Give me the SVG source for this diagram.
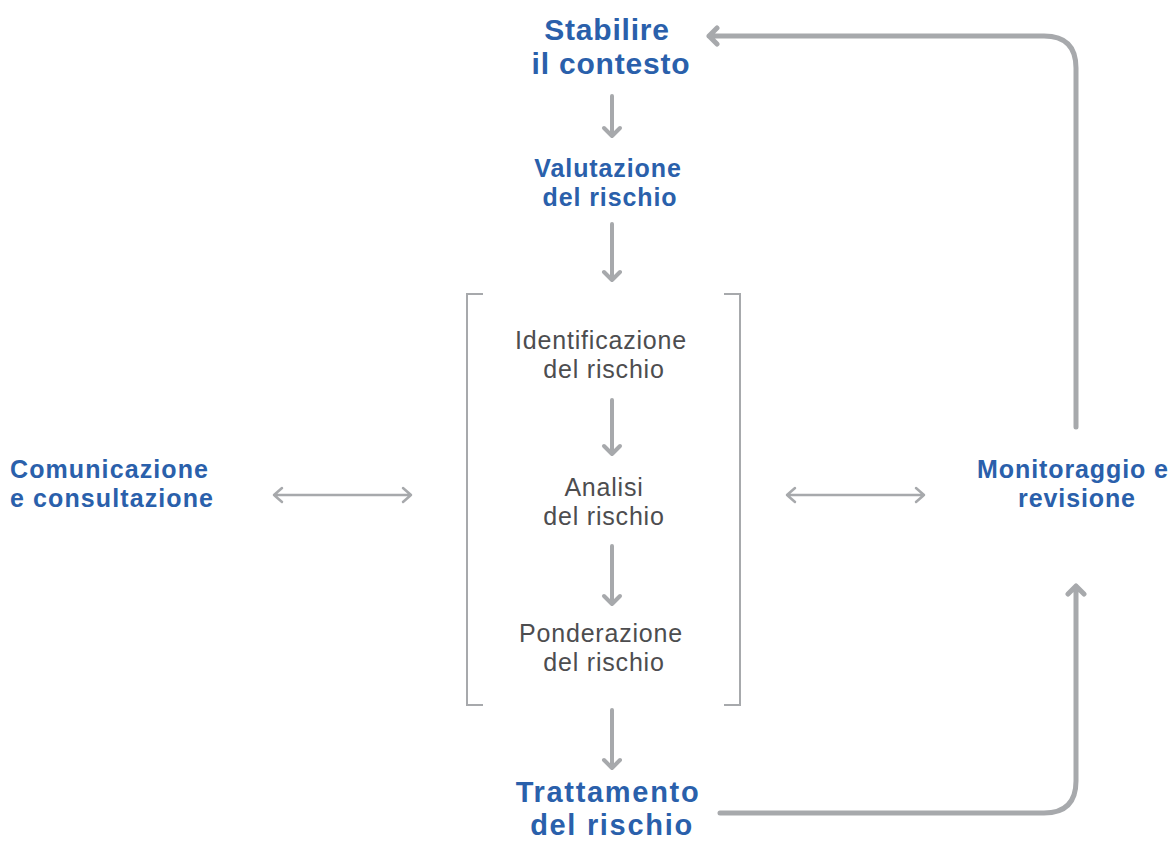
<svg xmlns="http://www.w3.org/2000/svg" width="1172" height="841" viewBox="0 0 1172 841">
  <style>
    .blue { fill: #2a60ab; font-family: "Liberation Sans", Arial, sans-serif; font-weight: bold; letter-spacing: 0.8px; }
    .gray { fill: #4d4d4f; font-family: "Liberation Sans", Arial, sans-serif; letter-spacing: 0.8px; }
    .flow { fill: none; stroke: #a7a9ac; stroke-width: 4; stroke-linecap: round; stroke-linejoin: round; }
    .loop { fill: none; stroke: #a7a9ac; stroke-width: 5; stroke-linecap: round; stroke-linejoin: round; }
    .thin { fill: none; stroke: #a7a9ac; stroke-width: 2.5; stroke-linecap: round; stroke-linejoin: round; }
    .bracket { fill: none; stroke: #a7a9ac; stroke-width: 2; }
  </style>
  <rect width="1172" height="841" fill="#ffffff"/>

  <g id="stabilire">
    <text class="blue" font-size="30" text-anchor="middle" x="607" y="40">Stabilire</text>
    <text class="blue" font-size="30" text-anchor="middle" x="611" y="74">il contesto</text>
  </g>
  <g id="valutazione">
    <text class="blue" font-size="25" text-anchor="middle" x="608" y="177" style="letter-spacing:0.9px">Valutazione</text>
    <text class="blue" font-size="25" text-anchor="middle" x="610" y="206" style="letter-spacing:0.9px">del rischio</text>
  </g>
  <g id="identificazione">
    <text class="gray" font-size="25" text-anchor="middle" x="601" y="349">Identificazione</text>
    <text class="gray" font-size="25" text-anchor="middle" x="604" y="378">del rischio</text>
  </g>
  <g id="analisi">
    <text class="gray" font-size="25" text-anchor="middle" x="604" y="496">Analisi</text>
    <text class="gray" font-size="25" text-anchor="middle" x="604" y="525">del rischio</text>
  </g>
  <g id="ponderazione">
    <text class="gray" font-size="25" text-anchor="middle" x="601" y="642">Ponderazione</text>
    <text class="gray" font-size="25" text-anchor="middle" x="604" y="671">del rischio</text>
  </g>
  <g id="trattamento">
    <text class="blue" font-size="29" text-anchor="middle" x="608" y="802" style="letter-spacing:1.7px">Trattamento</text>
    <text class="blue" font-size="29" text-anchor="middle" x="612" y="835" style="letter-spacing:1.7px">del rischio</text>
  </g>
  <g id="comunicazione">
    <text class="blue" font-size="25" x="10" y="478" style="letter-spacing:1.1px">Comunicazione</text>
    <text class="blue" font-size="25" x="10" y="507" style="letter-spacing:1.1px">e consultazione</text>
  </g>
  <g id="monitoraggio">
    <text class="blue" font-size="25" text-anchor="middle" x="1073" y="478" style="letter-spacing:0.9px">Monitoraggio e</text>
    <text class="blue" font-size="25" text-anchor="middle" x="1077" y="507" style="letter-spacing:0.9px">revisione</text>
  </g>

  <!-- bracket around the assessment sub-steps -->
  <g id="bracket">
    <path class="bracket" d="M483 294 H467 V705 H483"/>
    <path class="bracket" d="M724 294 H740 V705 H724"/>
  </g>

  <g id="connectors">
    <!-- vertical flow arrows -->
    <path class="flow" d="M612 96 V136 M604 128 L612 136 L620 128"/>
    <path class="flow" d="M612 224 V280 M604 272 L612 280 L620 272"/>
    <path class="flow" d="M612 400 V454 M604 446 L612 454 L620 446"/>
    <path class="flow" d="M612 546 V604 M604 596 L612 604 L620 596"/>
    <path class="flow" d="M612 710 V768 M604 760 L612 768 L620 760"/>
    <!-- two-way links -->
    <path class="thin" d="M274 495 H411 M282 488 L274 495 L282 502 M403 488 L411 495 L403 502"/>
    <path class="thin" d="M787 495 H924 M795 488 L787 495 L795 502 M916 488 L924 495 L916 502"/>
    <!-- monitoring loop -->
    <path class="loop" d="M720 813 H1044 Q1076 813 1076 781 V586 M1068 594 L1076 586 L1084 594"/>
    <path class="loop" d="M1076 427 V68 Q1076 36 1044 36 H709 M717 28 L709 36 L717 44"/>
  </g>
</svg>
